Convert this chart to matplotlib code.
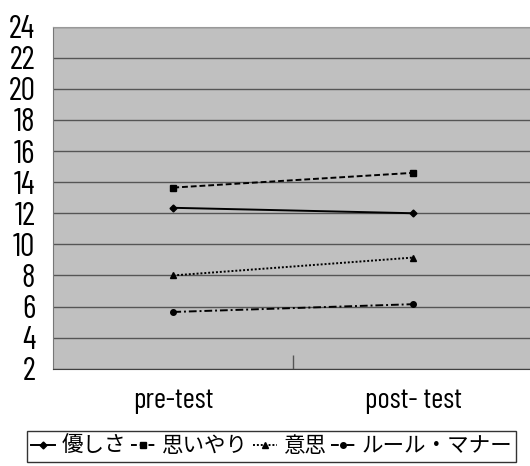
import matplotlib
matplotlib.use("Agg")
import matplotlib.pyplot as plt

plt.rcParams['font.family'] = ['Noto Sans CJK JP', 'DejaVu Sans']

categories = ["pre-test", "post- test"]
series_names = ["優しさ", "思いやり", "意思", "ルール・マナー"]
yasashisa = [12.35, 12.0]
omoiyari = [13.65, 14.6]
ishi = [8.0, 9.15]
rule_manner = [5.65, 6.15]
y_ticks = [2, 4, 6, 8, 10, 12, 14, 16, 18, 20, 22, 24]

narrow = ['Barlow Condensed', 'DejaVu Sans']

fig = plt.figure(figsize=(5.3, 4.66), dpi=100)
ax = fig.add_axes([53.3/530, (466-368.7)/466, 480/530, 342/466])
ax.set_facecolor('#c0c0c0')

x = list(range(len(categories)))
styles = [
    (yasashisa, '-', 'D', 3.5),
    (omoiyari, (0, (3, 1.5)), 's', 4),
    (ishi, (0, (1, 1)), '^', 4),
    (rule_manner, (0, (4, 1.5, 1, 1.5)), 'o', 4),
]
for (vals, ls, mk, ms), name in zip(styles, series_names):
    ax.plot(x, vals, color='black', linestyle=ls, linewidth=1.4,
            marker=mk, markersize=ms, markerfacecolor='black',
            markeredgecolor='black', label=name, zorder=3)

ax.set_xlim(-0.5, 1.5)
ax.set_ylim(2, 24)
ax.set_yticks(y_ticks)
ax.set_yticklabels([str(v) for v in y_ticks], fontfamily=narrow, fontsize=23)
ax.tick_params(axis='y', length=0, pad=13)
for v in y_ticks:
    ax.axhline(v, color='#555555', linewidth=1.0, zorder=1)

ax.set_xticks(x)
ax.set_xticklabels(categories, fontfamily=narrow, fontsize=21)
ax.tick_params(axis='x', which='major', length=0, pad=14)
ax.set_xticks([0.5], minor=True)
ax.tick_params(axis='x', which='minor', direction='in', length=10,
               color='#555555', width=1)

for side in ['top', 'right']:
    ax.spines[side].set_color('#999999')
ax.spines['left'].set_color('#777777')
ax.spines['bottom'].set_color('#404040')

leg = fig.legend(loc='upper left', bbox_to_anchor=(27/530, 1 - 431/466),
                 ncol=4, fontsize=15.5, frameon=True, fancybox=False,
                 handlelength=1.1, handletextpad=0.3, columnspacing=0.25,
                 borderpad=0.2, borderaxespad=0, edgecolor='black')
leg.get_frame().set_linewidth(1.0)

fig.savefig('out.png', dpi=100, facecolor='white')
